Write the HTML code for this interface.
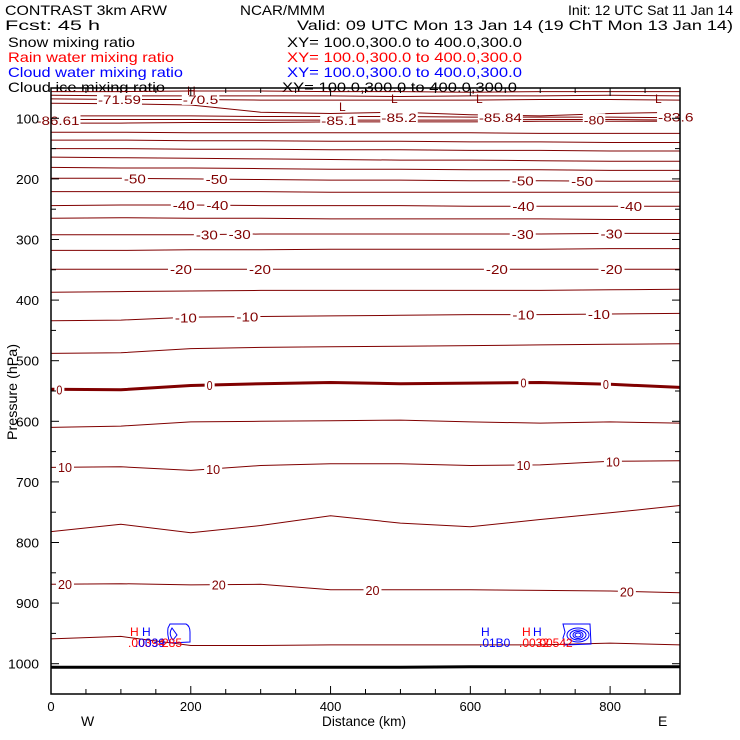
<!DOCTYPE html>
<html><head><meta charset="utf-8">
<style>
html,body{margin:0;padding:0;background:#fff;}
svg{display:block;font-family:"Liberation Sans",sans-serif;}
</style></head>
<body>
<svg id="chart" width="740" height="740" viewBox="0 0 740 740">
  <g font-size="14" fill="#000">
    <text x="5" y="15" textLength="162" lengthAdjust="spacingAndGlyphs">CONTRAST  3km ARW</text>
    <text x="240" y="15" textLength="85" lengthAdjust="spacingAndGlyphs">NCAR/MMM</text>
    <text x="568" y="15" textLength="165" lengthAdjust="spacingAndGlyphs">Init: 12 UTC Sat 11 Jan 14</text>
    <text x="5" y="30" textLength="95" lengthAdjust="spacingAndGlyphs">Fcst:    45 h</text>
    <text x="297" y="30" textLength="436" lengthAdjust="spacingAndGlyphs">Valid: 09 UTC Mon 13 Jan 14 (19 ChT Mon 13 Jan 14)</text>
    <text x="8" y="47" textLength="127" lengthAdjust="spacingAndGlyphs">Snow mixing ratio</text>
    <text x="287" y="47" textLength="235" lengthAdjust="spacingAndGlyphs">XY= 100.0,300.0 to 400.0,300.0</text>
    <text x="8" y="62" fill="#ff0000" textLength="166" lengthAdjust="spacingAndGlyphs">Rain water mixing ratio</text>
    <text x="287" y="62" fill="#ff0000" textLength="235" lengthAdjust="spacingAndGlyphs">XY= 100.0,300.0 to 400.0,300.0</text>
    <text x="8" y="77" fill="#0000ff" textLength="175" lengthAdjust="spacingAndGlyphs">Cloud water mixing ratio</text>
    <text x="287" y="77" fill="#0000ff" textLength="235" lengthAdjust="spacingAndGlyphs">XY= 100.0,300.0 to 400.0,300.0</text>
    <text x="8" y="92" textLength="157" lengthAdjust="spacingAndGlyphs">Cloud ice mixing ratio</text>
    <text x="282" y="92" textLength="235" lengthAdjust="spacingAndGlyphs">XY= 100.0,300.0 to 400.0,300.0</text>
  </g>
  <g id="plot"></g>
  <g id="axes"></g>
</svg>
<script>
// ---- data ----
const distKm = [0,100,200,300,400,500,600,700,800,900];
const isoLevels = ['t1','t2','t3','t4','t5','t6','t7','t8','t9','t10','t11','t12','t13','t14','t15','t16','t0','t17','t10p','t15p','t20p','tsfc'];
const isoPressure = [
 [108,108,107,107,106,106,106,105,105,105],
 [123,123,124,124,124,124,124,125,125,125],
 [136,136,137,137,138,138,139,139,140,140],
 [150,150,151,151,152,152,153,153,154,154],
 [164,165,166,167,168,169,169,170,171,171],
 [181,182,182,183,184,184,185,185,186,186],
 [199,199,200,201,202,202,203,203,204,204],
 [221,221,221,221,222,222,222,222,222,222],
 [244,243,243,244,244,244,245,245,245,245],
 [265,264,265,265,266,266,266,266,267,267],
 [292,292,292,291,291,291,291,291,290,290],
 [318,318,317,317,316,316,316,316,315,315],
 [349,349,349,349,349,349,349,349,349,349],
 [387,386,385,384,384,384,384,384,383,382],
 [434,433,428,427,426,425,424,424,423,422],
 [488,487,480,478,477,476,475,474,473,472],
 [547,548,541,538,536,538,537,536,539,544],
 [610,608,601,600,599,598,601,603,601,603],
 [676,675,681,673,670,670,673,672,666,665],
 [782,770,784,772,756,768,774,762,751,739],
 [869,868,870,869,878,878,878,879,880,883],
 [959,955,970,970,969,969,969,969,966,969]
];
const isoWidth = [1,1,1,1,1,1,1,1,1,1,1,1,1,1,1,1,3,1,1,1,1,1];
const labelText = ['-50','-40','-30','-20','-10','0','10','20'];
const labelLine = [6,8,10,12,14,16,18,20];
const labelKm = [[120,237,675,760],[190,238,676,830],[223,270,675,802],[186,299,638,802],[193,281,676,784],[12,227,676,794],[20,232,676,804],[20,240,460,824]];
const topLabels = ['-71.59','-70.5','-86.61','-85.1','-85.2','-85.84','-80','-83.6'];
const topLabelKm = [98,214,10,412,498,643,777,894];
const topLabelP = [68,68,103,103,98,98,102,97];
const sfcPressure = [1006,1006,1006,1006,1006,1006,1005,1005,1005,1005];

// ---- scales ----
const X0=51, X1=680, Y0=88, Y1=694;
const xS = d => X0 + d*(X1-X0)/900;
const yS = p => Y0 + (p-50)*(Y1-Y0)/1000;
const NS='http://www.w3.org/2000/svg';
function mk(tag, attrs, parent){const e=document.createElementNS(NS,tag);for(const k in attrs)e.setAttribute(k,attrs[k]);parent.appendChild(e);return e;}
function interp(arr, d){const i=Math.min(8,Math.floor(d/100));const t=(d-i*100)/100;return arr[i]+(arr[i+1]-arr[i])*t;}
const plot=document.getElementById('plot'), axes=document.getElementById('axes');

const topLines=[[56,56,55,55,56,56,57,56,56,56],[62,63,63,63,63,64,63,63,62,63],[68,69,69,70,70,70,70,69,69,70],[75,76,78,90,92,90,94,96,92,90],[96,96,96,97,97,97,98,98,98,99],[102,102,102,103,103,103,103,102,102,103]];
topLines.forEach((arr,i)=>{
  const pl=mk('polyline',{points:distKm.map((d,j)=>xS(d)+','+yS(arr[j]).toFixed(1)).join(' '),fill:'none',stroke:'#800000','stroke-width':1},plot);
  
  
});

isoPressure.forEach((arr,i)=>{
  const pl=mk('polyline',{points:distKm.map((d,j)=>xS(d)+','+yS(arr[j]).toFixed(1)).join(' '),fill:'none',stroke:'#800000','stroke-width':isoWidth[i]},plot);
  
  
});

const sl=mk('polyline',{points:distKm.map((d,j)=>xS(d)+','+yS(sfcPressure[j]).toFixed(1)).join(' '),fill:'none',stroke:'#000','stroke-width':3},plot);



labelText.forEach((t,i)=>{
  labelKm[i].forEach(d=>{
    const x=xS(d), y=yS(interp(isoPressure[labelLine[i]],d));
    const w=t.length*8+2;
    const r=mk('rect',{x:x-w/2,y:y-6,width:w,height:12,fill:'#fff'},plot);
    
    
    const tx=mk('text',{x:x,y:y+5,'text-anchor':'middle','font-size':13,fill:'#800000',textLength:t.length*8-2,lengthAdjust:'spacingAndGlyphs'},plot);
    tx.textContent=t;
    
    
  });
});
topLabels.forEach((t,i)=>{
  const x=xS(topLabelKm[i]), y=yS(topLabelP[i]);
  const w=t.length*7.5;
  const r=mk('rect',{x:x-w/2,y:y-6,width:w,height:12,fill:'#fff'},plot);
  
  
  const tx=mk('text',{x:x,y:y+5,'text-anchor':'middle','font-size':12,fill:'#800000',textLength:w-2,lengthAdjust:'spacingAndGlyphs'},plot);
  tx.textContent=t;
  
  
});
[['H',187,95],['L',339,111],['L',391,103],['L',476,103],['L',655,103]].forEach(a=>{
  const tx=mk('text',{x:a[1],y:a[2],'font-size':12,fill:'#800000'},plot);
  tx.textContent=a[0];
  
  
});

const hyd=mk('g',{},plot);


mk('path',{d:'M170 624 L186 624 Q190 626 190 632 L190 642 L170 643 Q167 636 168 628 Z',fill:'none',stroke:'#00f','stroke-width':1},hyd);
mk('path',{d:'M172 628 L177 635 L173 640 Q168 634 172 628 Z',fill:'none',stroke:'#00f','stroke-width':1},hyd);
mk('path',{d:'M563 624 L590 624 L591 644 L565 645 L563 638 L565 632 Z',fill:'none',stroke:'#00f','stroke-width':1},hyd);
[[11,7],[8,5],[5,3.5],[3,2]].forEach(r=>mk('ellipse',{cx:578,cy:635,rx:r[0],ry:r[1],fill:'none',stroke:'#00f','stroke-width':1},hyd));
[['H',130,636,'#f00'],['H',142,636,'#00f'],['.00394',128,647,'#f00'],['.0039',135,647,'#00f'],['285',162,647,'#f00'],
 ['H',481,636,'#00f'],['.01B0',479,647,'#00f'],['H',522,636,'#f00'],['H',533,636,'#00f'],['.0032',519,647,'#f00'],['.00542',536,647,'#f00']].forEach(a=>{
  const tx=mk('text',{x:a[1],y:a[2],'font-size':12,fill:a[3]},hyd);
  tx.textContent=a[0];
  
  
});

const fr=mk('rect',{x:X0,y:Y0,width:X1-X0,height:Y1-Y0,fill:'none',stroke:'#000','stroke-width':1.5},axes);


for(let p=100;p<=1050;p+=50){
  const y=yS(p), L=(p%100===0)?8:5;
  mk('line',{x1:X0,y1:y,x2:X0+L,y2:y,stroke:'#000'},axes);
  mk('line',{x1:X1,y1:y,x2:X1-L,y2:y,stroke:'#000'},axes);
  if(p%100===0&&p<=1000){
    const t=mk('text',{x:39,y:y+5,'text-anchor':'end','font-size':13,textLength:String(p).length*8-1,lengthAdjust:'spacingAndGlyphs'},axes);
    t.textContent=p;
    
    
  }
}
for(let d=50;d<900;d+=50){
  const x=xS(d), L=(d%200===0)?8:5;
  mk('line',{x1:x,y1:Y1,x2:x,y2:Y1-L,stroke:'#000'},axes);
  mk('line',{x1:x,y1:Y0,x2:x,y2:Y0+L,stroke:'#000'},axes);
}
for(let d=0;d<=800;d+=200){
  const t=mk('text',{x:xS(d),y:711,'text-anchor':'middle','font-size':13},axes);
  t.textContent=d;
  
  
}
const xt=mk('text',{x:364,y:726,'text-anchor':'middle','font-size':14,textLength:84,lengthAdjust:'spacingAndGlyphs'},axes);
xt.textContent='Distance (km)';


const yt=mk('text',{x:17,y:392,'text-anchor':'middle','font-size':14,transform:'rotate(-90 17 392)',textLength:96,lengthAdjust:'spacingAndGlyphs'},axes);
yt.textContent='Pressure (hPa)';


const w=mk('text',{x:81,y:726,'font-size':14},axes);
w.textContent='W';


const e=mk('text',{x:658,y:726,'font-size':14},axes);
e.textContent='E';


</script>
</body></html>
